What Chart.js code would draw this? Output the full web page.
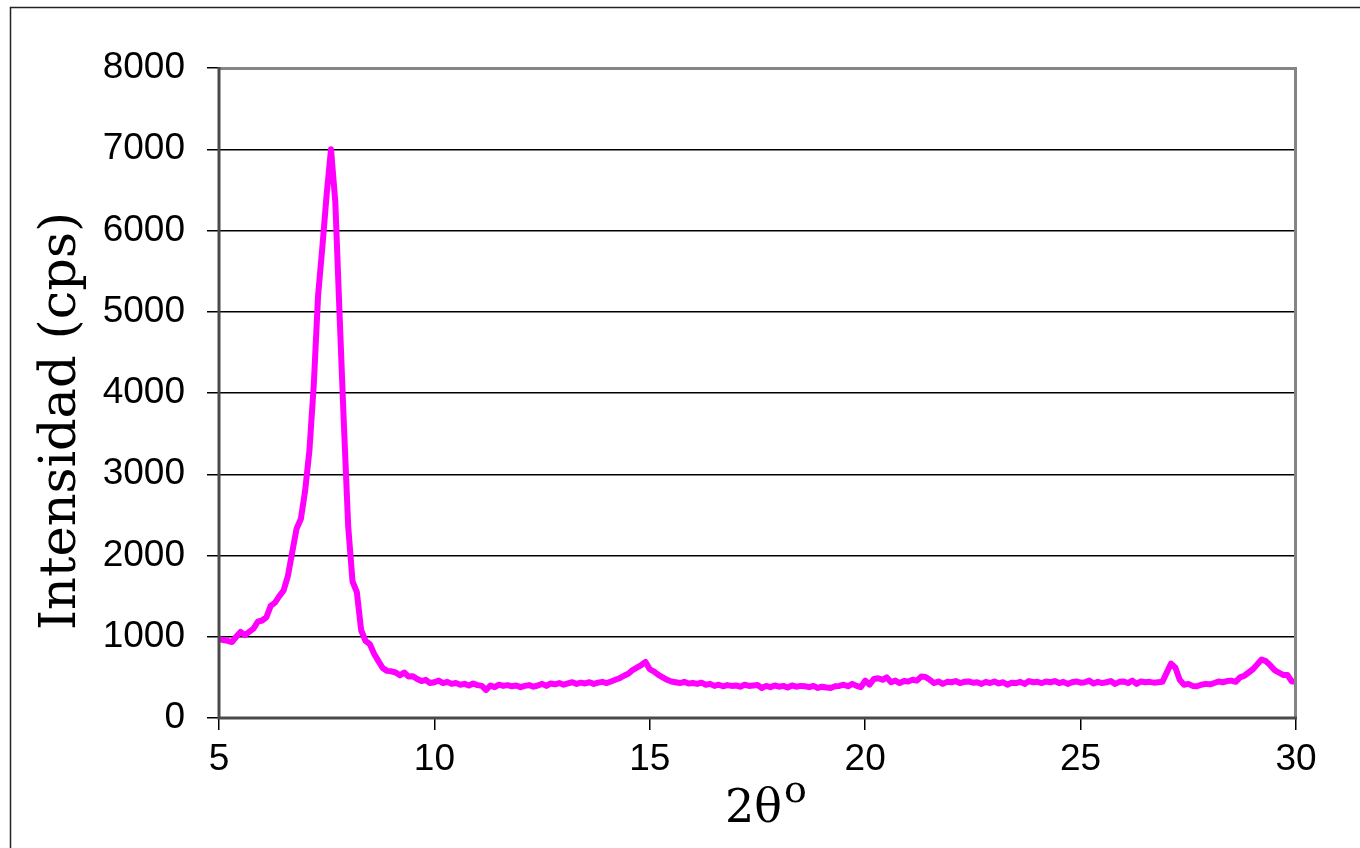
<!DOCTYPE html>
<html>
<head>
<meta charset="utf-8">
<script src="https://cdn.jsdelivr.net/npm/chart.js@4.4.1/dist/chart.umd.min.js"></script>
<style>
  html, body { margin: 0; padding: 0; background: #ffffff; }
  #wrap { width: 1360px; height: 848px; }
</style>
</head>
<body>
<div id="wrap"><canvas id="c" width="1360" height="848"></canvas></div>
<script>
const xTitle = '2θ';
const xTitleSup = 'o';
const yTitle = 'Intensidad (cps)';
const xTicks = [5, 10, 15, 20, 25, 30];
const yTicks = [0, 1000, 2000, 3000, 4000, 5000, 6000, 7000, 8000];

const twoTheta = [
  5.0,5.1,5.2,5.3,5.4,5.5,5.6,5.7,5.8,5.9,
  6.0,6.1,6.2,6.3,6.4,6.5,6.6,6.7,6.8,6.9,
  7.0,7.1,7.2,7.3,7.4,7.5,7.6,7.7,7.8,7.9,
  8.0,8.1,8.2,8.3,8.4,8.5,8.6,8.7,8.8,8.9,
  9.0,9.1,9.2,9.3,9.4,9.5,9.6,9.7,9.8,9.9,
  10.0,10.1,10.2,10.3,10.4,10.5,10.6,10.7,10.8,10.9,
  11.0,11.1,11.2,11.3,11.4,11.5,11.6,11.7,11.8,11.9,
  12.0,12.1,12.2,12.3,12.4,12.5,12.6,12.7,12.8,12.9,
  13.0,13.1,13.2,13.3,13.4,13.5,13.6,13.7,13.8,13.9,
  14.0,14.1,14.2,14.3,14.4,14.5,14.6,14.7,14.8,14.9,
  15.0,15.1,15.2,15.3,15.4,15.5,15.6,15.7,15.8,15.9,
  16.0,16.1,16.2,16.3,16.4,16.5,16.6,16.7,16.8,16.9,
  17.0,17.1,17.2,17.3,17.4,17.5,17.6,17.7,17.8,17.9,
  18.0,18.1,18.2,18.3,18.4,18.5,18.6,18.7,18.8,18.9,
  19.0,19.1,19.2,19.3,19.4,19.5,19.6,19.7,19.8,19.9,
  20.0,20.1,20.2,20.3,20.4,20.5,20.6,20.7,20.8,20.9,
  21.0,21.1,21.2,21.3,21.4,21.5,21.6,21.7,21.8,21.9,
  22.0,22.1,22.2,22.3,22.4,22.5,22.6,22.7,22.8,22.9,
  23.0,23.1,23.2,23.3,23.4,23.5,23.6,23.7,23.8,23.9,
  24.0,24.1,24.2,24.3,24.4,24.5,24.6,24.7,24.8,24.9,
  25.0,25.1,25.2,25.3,25.4,25.5,25.6,25.7,25.8,25.9,
  26.0,26.1,26.2,26.3,26.4,26.5,26.6,26.7,26.8,26.9,
  27.0,27.1,27.2,27.3,27.4,27.5,27.6,27.7,27.8,27.9,
  28.0,28.1,28.2,28.3,28.4,28.5,28.6,28.7,28.8,28.9,
  29.0,29.1,29.2,29.3,29.4,29.5,29.6,29.7,29.8,29.9,
  30.0
];

const intensity = [
  970,960,950,935,1000,1060,1020,1060,1100,1185,
  1200,1240,1380,1420,1500,1570,1750,2040,2330,2450,
  2800,3300,4100,5200,5800,6450,7000,6350,4950,3600,
  2350,1680,1550,1080,950,910,790,700,615,580,
  575,560,525,560,510,515,480,455,470,430,
  440,460,430,445,420,430,410,420,400,425,
  405,395,345,400,380,410,395,405,390,400,
  380,395,405,385,400,420,395,425,415,430,
  410,425,440,420,435,425,440,420,435,445,
  430,450,470,490,520,545,590,620,650,690,
  600,570,530,500,470,450,440,430,445,425,
  430,420,435,410,420,395,410,390,405,395,
  400,385,410,395,400,405,370,395,380,400,
  385,395,375,400,385,395,390,380,395,370,
  385,375,370,390,395,410,390,420,395,380,
  460,410,480,490,470,500,440,460,430,455,
  450,470,460,510,505,470,430,450,420,445,
  440,455,430,445,450,435,440,420,445,430,
  450,425,440,410,435,430,445,420,455,440,
  445,430,450,440,455,430,445,420,440,450,
  435,440,460,425,445,430,440,455,420,445,
  450,430,460,420,450,440,445,435,440,445,
  560,670,620,470,410,420,395,390,410,420,
  415,430,450,440,455,460,445,500,520,560,
  600,660,720,700,650,590,560,530,530,450,
  450
];

const points = twoTheta.map((t, i) => ({ x: t, y: intensity[i] }));

const PLOT = { left: 219, right: 1296, top: 68, bottom: 718 };

const framePlugin = {
  id: 'frame',
  beforeDraw(chart) {
    const ctx = chart.ctx;
    ctx.save();
    ctx.fillStyle = '#ffffff';
    ctx.fillRect(0, 0, chart.width, chart.height);
    ctx.strokeStyle = '#222222';
    ctx.lineWidth = 1.5;
    ctx.strokeRect(10.5, 7.5, 1500, 1000);
    ctx.restore();
  },
  afterDraw(chart) {
    const a = chart.chartArea;
    const ctx = chart.ctx;
    ctx.save();
    ctx.strokeStyle = '#858585';
    ctx.lineWidth = 3;
    ctx.beginPath();
    ctx.moveTo(a.left, a.top + 0.5);
    ctx.lineTo(a.right - 0.5, a.top + 0.5);
    ctx.lineTo(a.right - 0.5, a.bottom);
    ctx.stroke();
    ctx.strokeStyle = '#4a4a4a';
    ctx.lineWidth = 3;
    ctx.beginPath();
    ctx.moveTo(a.left, a.top - 1);
    ctx.lineTo(a.left, a.bottom);
    ctx.lineTo(a.right + 1, a.bottom);
    ctx.stroke();
    ctx.fillStyle = '#000000';
    ctx.textBaseline = 'alphabetic';
    ctx.save();
    ctx.translate(75, 421);
    ctx.rotate(-Math.PI / 2);
    ctx.font = '51px "DejaVu Serif"';
    ctx.textAlign = 'center';
    ctx.fillText(yTitle, 0, 0);
    ctx.restore();
    ctx.font = '46px "DejaVu Serif"';
    ctx.textAlign = 'left';
    const w1 = ctx.measureText(xTitle).width;
    ctx.font = '38px "DejaVu Serif"';
    const w2 = ctx.measureText(xTitleSup).width;
    const startX = 766 - (w1 + w2 + 2) / 2;
    ctx.font = '46px "DejaVu Serif"';
    ctx.fillText(xTitle, startX, 822);
    ctx.font = '38px "DejaVu Serif"';
    ctx.fillText(xTitleSup, startX + w1 + 2, 802);
    ctx.restore();
  }
};

new Chart(document.getElementById('c'), {
  type: 'line',
  data: {
    datasets: [{
      data: points,
      borderColor: '#ff00ff',
      backgroundColor: '#ff00ff',
      borderWidth: 6,
      borderJoinStyle: 'round',
      borderCapStyle: 'round',
      pointRadius: 0,
      tension: 0,
      fill: false
    }]
  },
  options: {
    responsive: false,
    animation: false,
    devicePixelRatio: 1,
    layout: { padding: { left: 0, right: 1360 - PLOT.right, top: PLOT.top, bottom: 0 } },
    plugins: { legend: { display: false }, tooltip: { enabled: false }, title: { display: false } },
    scales: {
      x: {
        type: 'linear',
        min: 5, max: 30,
        afterBuildTicks: s => { s.ticks = xTicks.map(v => ({ value: v })); },
        afterFit: s => { s.height = 848 - PLOT.bottom; },
        grid: { drawOnChartArea: false, drawTicks: true, tickLength: 12, color: '#000000', lineWidth: 1.5 },
        border: { display: false },
        ticks: { color: '#000000', font: { family: '"Liberation Sans", Arial, sans-serif', size: 37 }, padding: 8, maxRotation: 0, callback: v => String(v) }
      },
      y: {
        min: 0, max: 8000,
        afterBuildTicks: s => { s.ticks = yTicks.map(v => ({ value: v })); },
        afterFit: s => { s.width = PLOT.left; },
        grid: { drawOnChartArea: true, drawTicks: true, tickLength: 12, color: '#000000', lineWidth: 1.5 },
        border: { display: false },
        ticks: { color: '#000000', font: { family: '"Liberation Sans", Arial, sans-serif', size: 37 }, padding: 22, callback: v => String(v) }
      }
    }
  },
  plugins: [framePlugin]
});
</script>
</body>
</html>
